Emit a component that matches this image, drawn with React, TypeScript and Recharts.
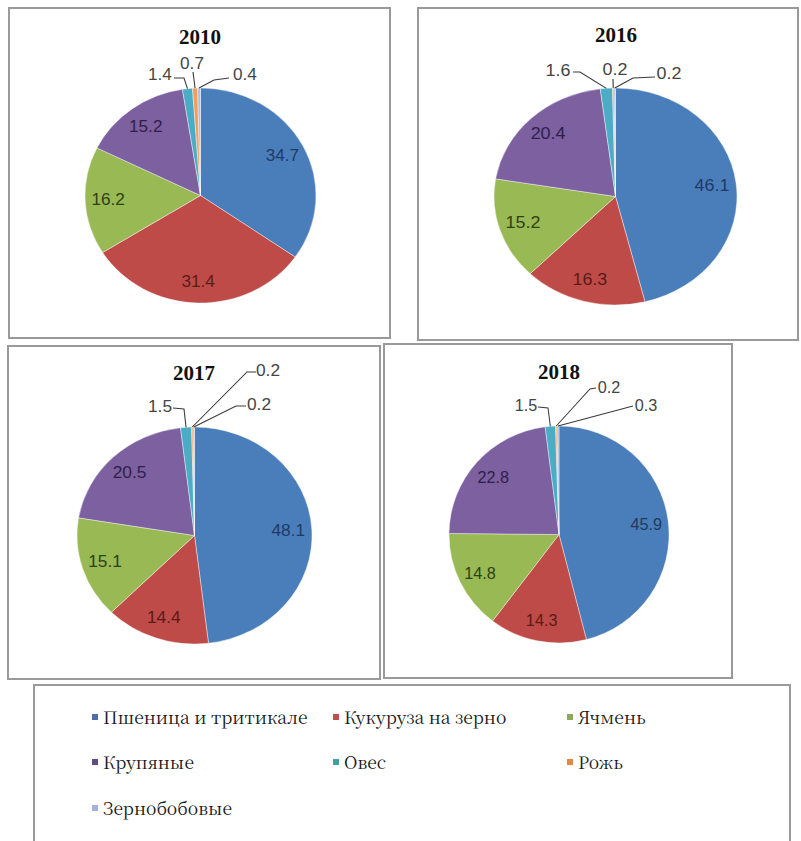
import { PieChart, Pie, Cell } from "recharts";

// crop structure, % of grain harvest
const categories = [
  "Пшеница и тритикале",
  "Кукуруза на зерно",
  "Ячмень",
  "Крупяные",
  "Овес",
  "Рожь",
  "Зернобобовые",
];
const years = ["2010", "2016", "2017", "2018"];
const share2010 = [34.7, 31.4, 16.2, 15.2, 1.4, 0.7, 0.4];
const share2016 = [46.1, 16.3, 15.2, 20.4, 1.6, 0.2, 0.2];
const share2017 = [48.1, 14.4, 15.1, 20.5, 1.5, 0.2, 0.2];
const share2018 = [45.9, 14.3, 14.8, 22.8, 1.5, 0.2, 0.3];

const sliceColors = ["#4A7EBB", "#BE4B48", "#98B954", "#7D60A0", "#4BACC6", "#F59D56", "#A7C0E3"];
const legendColors = ["#4F6FA6", "#C0504D", "#8FA860", "#5E4E80", "#3F9EA0", "#E0884A", "#A3B3DA"];
const innerLabelColors = ["#1F3A63", "#5C1A18", "#2E4211", "#2E1F4A"];

type Pt = [number, number];
type Callout = { text: Pt; path: Pt[] };
type Panel = {
  year: string;
  values: number[];
  box: { l: number; t: number; r: number; b: number };
  center: Pt;
  rx: number;
  ry: number;
  title: Pt;
  callouts: Record<number, Callout>;
};

// layout (screen px): boxes, pie centres, small-slice callouts
const panels: Panel[] = [
  {
    year: years[0],
    values: share2010,
    box: { l: 9, t: 8, r: 392, b: 340 },
    center: [200.5, 195.5],
    rx: 115.5,
    ry: 107.5,
    title: [200, 37],
    callouts: {
      4: { text: [160, 75], path: [[174, 78], [184, 78]] },
      5: { text: [192, 64], path: [[193, 72]] },
      6: { text: [245, 75], path: [[229, 78], [214, 80]] },
    },
  },
  {
    year: years[1],
    values: share2016,
    box: { l: 418, t: 8, r: 800, b: 342 },
    center: [615.5, 196.5],
    rx: 121.5,
    ry: 108.5,
    title: [616, 35],
    callouts: {
      4: { text: [558, 71], path: [[573, 72], [580, 72]] },
      5: { text: [615, 70], path: [[613, 79]] },
      6: { text: [669, 74], path: [[655, 77], [633, 78]] },
    },
  },
  {
    year: years[2],
    values: share2017,
    box: { l: 8, t: 346, r: 382, b: 681 },
    center: [194.5, 535.5],
    rx: 117.5,
    ry: 108.5,
    title: [194, 373],
    callouts: {
      4: { text: [160, 407], path: [[173, 408], [184, 409]] },
      5: { text: [268, 371], path: [[256, 372], [247, 372]] },
      6: { text: [259, 405], path: [[246, 406], [236, 406]] },
    },
  },
  {
    year: years[3],
    values: share2018,
    box: { l: 384, t: 344, r: 734, b: 680 },
    center: [559, 534.5],
    rx: 110,
    ry: 108.5,
    title: [559, 372],
    callouts: {
      4: { text: [526, 405], path: [[538, 407], [548, 408]] },
      5: { text: [609, 387], path: [[596, 388], [590, 389]] },
      6: { text: [646, 405], path: [[633, 406]] },
    },
  },
];

const RAD = Math.PI / 180;
const border = "2px solid #9a9a9a";
const serifFont = "'Liberation Serif', monospace";
const legendFont = "'Noto Serif CJK SC', 'Liberation Serif', monospace";
const sansFont = "Liberation Sans";

function PiePanel({ p }: { p: Panel }) {
  const { l, t, r, b } = p.box;
  const w = r - l;
  const h = b - t;
  const sx = p.rx / p.ry;
  const cx = p.center[0] - l;
  const cy = p.center[1] - t;
  const data = categories.map((name, i) => ({ name, value: p.values[i] }));

  const toChart = ([xs, ys]: Pt): Pt => [cx + (xs - p.center[0]) / sx, ys - t];

  const renderLabel = (props: any) => {
    const { midAngle, outerRadius, index, value } = props;
    const pcx = props.cx;
    const pcy = props.cy;
    if (index < 4) {
      const rr = outerRadius * 0.8;
      const x = pcx + rr * Math.cos(-midAngle * RAD);
      const y = pcy + rr * Math.sin(-midAngle * RAD);
      return (
        <text
          key={`in-${index}`}
          x={x}
          y={y}
          textAnchor="middle"
          dominantBaseline="central"
          fill={innerLabelColors[index]}
          fontSize={16}
          fontFamily={sansFont}
        >
          {value}
        </text>
      );
    }
    const c = p.callouts[index];
    if (!c) return null;
    const ex = pcx + outerRadius * Math.cos(-midAngle * RAD);
    const ey = pcy + outerRadius * Math.sin(-midAngle * RAD);
    const pts = [...c.path.map(toChart), [ex, ey]];
    const [tx, ty] = toChart(c.text);
    return (
      <g key={`out-${index}`}>
        <polyline
          points={pts.map((q) => q.join(",")).join(" ")}
          fill="none"
          stroke="#3a3a3a"
          strokeWidth={1}
        />
        <text
          x={tx}
          y={ty}
          textAnchor="middle"
          dominantBaseline="central"
          fill="#454545"
          fontSize={16}
          fontFamily={sansFont}
        >
          {value}
        </text>
      </g>
    );
  };

  return (
    <>
      <div
        style={{
          position: "absolute",
          left: l - 1,
          top: t - 1,
          width: w,
          height: h,
          border,
          boxSizing: "border-box",
        }}
      />
      <div
        style={{
          position: "absolute",
          left: l,
          top: t,
          width: w,
          height: h,
          transform: `scaleX(${sx})`,
          transformOrigin: `${cx}px ${cy}px`,
        }}
      >
        <PieChart width={w} height={h} margin={{ top: 0, right: 0, bottom: 0, left: 0 }}>
          <Pie
            data={data}
            dataKey="value"
            nameKey="name"
            cx={cx}
            cy={cy}
            outerRadius={p.ry}
            startAngle={90}
            endAngle={-270}
            stroke="#ffffff"
            strokeWidth={0.4}
            label={renderLabel}
            labelLine={false}
            isAnimationActive={false}
          >
            {data.map((d, i) => (
              <Cell key={d.name} fill={sliceColors[i]} />
            ))}
          </Pie>
        </PieChart>
      </div>
      <div
        style={{
          position: "absolute",
          left: p.title[0] - 40,
          top: p.title[1] - 13,
          width: 80,
          textAlign: "center",
          fontFamily: serifFont,
          fontWeight: 700,
          fontSize: 21,
          lineHeight: "26px",
          color: "#111",
        }}
      >
        {p.year}
      </div>
    </>
  );
}

// legend grid positions
const legendCols = [92, 333, 567];
const legendRows = [717, 762, 808];

export default function App() {
  return (
    <div
      style={{
        position: "absolute",
        left: 0,
        top: 0,
        width: 801,
        height: 841,
        background: "#ffffff",
        overflow: "hidden",
      }}
    >
      {panels.map((p) => (
        <PiePanel key={p.year} p={p} />
      ))}
      <div
        style={{
          position: "absolute",
          left: 33,
          top: 684,
          width: 758,
          height: 170,
          border,
          boxSizing: "border-box",
        }}
      />
      {categories.map((name, i) => {
        const x = legendCols[i % 3];
        const y = legendRows[Math.floor(i / 3)];
        return (
          <div key={name}>
            <div
              style={{
                position: "absolute",
                left: x,
                top: y - 3,
                width: 6,
                height: 6,
                background: legendColors[i],
              }}
            />
            <div
              style={{
                position: "absolute",
                left: x + 11,
                top: y - 12,
                fontFamily: legendFont,
                fontSize: 17.5,
                lineHeight: "24px",
                color: "#1a1a1a",
                whiteSpace: "nowrap",
              }}
            >
              {name}
            </div>
          </div>
        );
      })}
    </div>
  );
}
